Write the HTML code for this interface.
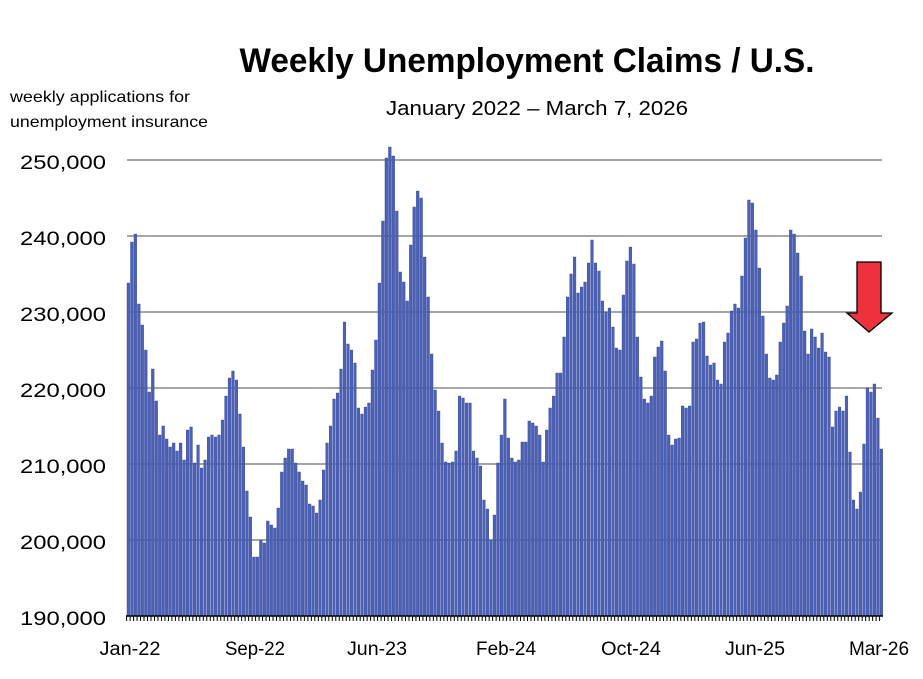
<!DOCTYPE html>
<html><head><meta charset="utf-8"><style>body{margin:0;background:#fff}svg{display:block}</style></head>
<body>
<svg id="s" width="923" height="679" xmlns="http://www.w3.org/2000/svg" font-family="Liberation Sans, Arial, sans-serif">
<rect width="923" height="679" fill="#fff"/>
<text x="527" y="72" text-anchor="middle" font-size="34" font-weight="bold" textLength="575" lengthAdjust="spacingAndGlyphs">Weekly Unemployment Claims / U.S.</text>
<text x="537" y="115" text-anchor="middle" font-size="20" textLength="302" lengthAdjust="spacingAndGlyphs">January 2022 – March 7, 2026</text>
<text x="10" y="102" font-size="16" textLength="180" lengthAdjust="spacingAndGlyphs">weekly applications for</text>
<text x="10" y="127" font-size="16" textLength="198" lengthAdjust="spacingAndGlyphs">unemployment insurance</text>
<g stroke="#888" stroke-width="1.5">
<line x1="127" x2="882" y1="160" y2="160"/><line x1="127" x2="882" y1="236" y2="236"/><line x1="127" x2="882" y1="312" y2="312"/><line x1="127" x2="882" y1="388" y2="388"/><line x1="127" x2="882" y1="464" y2="464"/><line x1="127" x2="882" y1="540" y2="540"/>
</g>
<g font-size="19.5" text-anchor="end" lengthAdjust="spacingAndGlyphs">
<text x="106" y="169" textLength="86" lengthAdjust="spacingAndGlyphs">250,000</text><text x="106" y="245" textLength="86" lengthAdjust="spacingAndGlyphs">240,000</text><text x="106" y="321" textLength="86" lengthAdjust="spacingAndGlyphs">230,000</text><text x="106" y="397" textLength="86" lengthAdjust="spacingAndGlyphs">220,000</text><text x="106" y="473" textLength="86" lengthAdjust="spacingAndGlyphs">210,000</text><text x="106" y="549" textLength="86" lengthAdjust="spacingAndGlyphs">200,000</text><text x="106" y="625" textLength="86" lengthAdjust="spacingAndGlyphs">190,000</text>
</g>
<g id="bars" fill="#4d61b4" stroke="#34479c" stroke-width="0.4"></g>
<g id="ticks" stroke="#000" stroke-width="1"></g>
<line x1="126" x2="883" y1="616" y2="616" stroke="#000" stroke-width="1.5"/>
<g font-size="19" text-anchor="middle">
<text x="130" y="655" textLength="61" lengthAdjust="spacingAndGlyphs">Jan-22</text><text x="255" y="655" textLength="60" lengthAdjust="spacingAndGlyphs">Sep-22</text><text x="377" y="655" textLength="60" lengthAdjust="spacingAndGlyphs">Jun-23</text><text x="506" y="655" textLength="60" lengthAdjust="spacingAndGlyphs">Feb-24</text><text x="631" y="655" textLength="60" lengthAdjust="spacingAndGlyphs">Oct-24</text><text x="755" y="655" textLength="60" lengthAdjust="spacingAndGlyphs">Jun-25</text><text x="879" y="655" textLength="60" lengthAdjust="spacingAndGlyphs">Mar-26</text>
</g>
<polygon points="857,262 881,262 881,313 892,313 869,332 847,313 857,313" fill="#ee323d" stroke="#000" stroke-width="1.3"/>
</svg>
<script>
var t=[283,242,234,304,325,350,392,369,401,435,426,439,447,443,451,443,460,430,427,463,445,468,460,437,435,437,435,420,396,378,371,380,414,447,491,517,557,557,540,543,521,525,528,508,472,458,449,449,463,472,481,485,504,506,513,500,
470,443,426,399,393,369,322,344,350,363,408,414,407,403,370,340,283,221,158,147,156,211,272,282,301,245,207,191,198,257,297,354,390,411,443,462,463,462,451,396,398,403,403,451,458,466,500,509,540,515,463,435,399,438,
458,462,460,442,442,421,423,426,435,462,430,408,396,373,373,337,297,274,257,293,287,282,263,240,263,271,301,312,308,327,348,350,295,261,247,264,337,377,399,403,396,357,347,341,371,435,445,439,438,406,408,406,342,339,323,
322,356,365,363,380,384,342,333,311,304,308,276,238,200,203,230,268,316,354,378,380,375,342,323,306,230,234,253,276,331,354,329,337,348,333,352,357,427,411,407,411,396,452,500,509,492,444,388,392,384,418,449];
var n=t.length,st=753/(n-1),b='',k='';
for(var i=0;i<n;i++){var x=127+i*st;b+='<rect x="'+x.toFixed(2)+'" y="'+t[i]+'" width="2.7" height="'+(616-t[i])+'"/>';k+='<line x1="'+(x-0.4).toFixed(2)+'" x2="'+(x-0.4).toFixed(2)+'" y1="616" y2="621"/>';}
document.getElementById('bars').innerHTML=b;document.getElementById('ticks').innerHTML=k;
</script>
</body></html>
